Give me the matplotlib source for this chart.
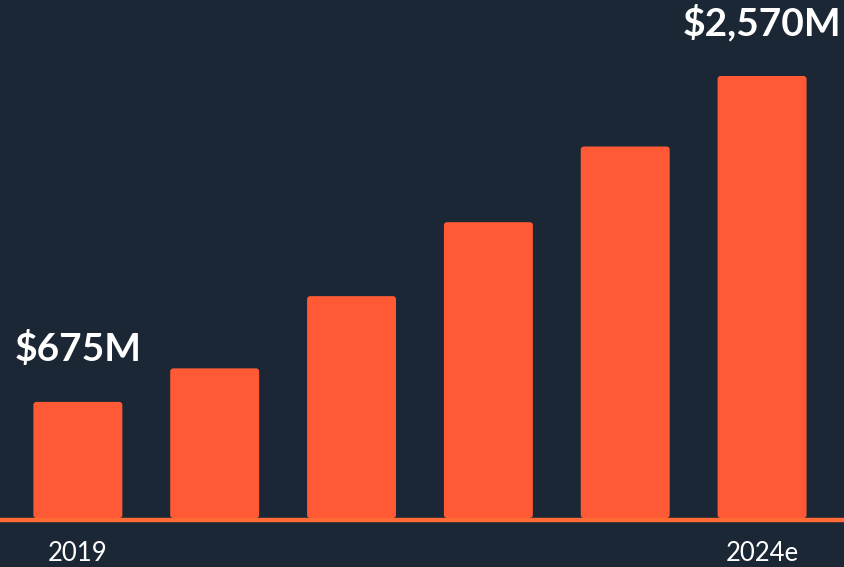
import matplotlib
matplotlib.use("Agg")
import matplotlib.pyplot as plt
from matplotlib.patches import FancyBboxPatch

years = ["2019", "2020", "2021", "2022", "2023", "2024e"]
tick_labels = ["2019", "", "", "", "", "2024e"]
values = [675, 870, 1290, 1720, 2160, 2570]
value_labels = ["$675M", "", "", "", "", "$2,570M"]

BG = "#1b2734"
BAR = "#ff5a35"
LINE = "#ff6a35"

fig = plt.figure(figsize=(8.45, 5.67), dpi=100, facecolor=BG)
ax = fig.add_axes([0, 1 - 518 / 567, 1, 518 / 567])
ax.set_facecolor(BG)

x = list(range(len(years)))
width = 0.65
bars = ax.bar(x, values, width=width, color=BAR)
ax.set_xlim(-0.569, 5.606)
ymax = 2570 * 518 / 442
ax.set_ylim(0, ymax)

# rounded corners
px_x = (5.606 + 0.569) / 845
px_y = ymax / 518
r = 3
for b in bars:
    b.set_visible(False)
    p = FancyBboxPatch((b.get_x(), b.get_y()), b.get_width(), b.get_height(),
                       boxstyle=f"round,pad=0,rounding_size={r * px_x}",
                       mutation_aspect=px_y / px_x,
                       facecolor=BAR, edgecolor="none", zorder=2)
    ax.add_patch(p)

ax.axhline(-2 * px_y, color=LINE, lw=3.2, zorder=3, clip_on=False)

for xi, v, lab in zip(x, values, value_labels):
    if lab:
        ax.annotate(lab, (xi, v), xytext=(0, 25), textcoords="offset points",
                    ha="center", va="bottom", color="white",
                    fontsize=28, fontweight="bold", family="Lato")

ax.set_xticks(x)
ax.set_xticklabels(tick_labels, color="white", fontsize=18.5, family="Lato")
ax.tick_params(axis="x", length=0, pad=16.5)
ax.set_yticks([])
for s in ax.spines.values():
    s.set_visible(False)

fig.savefig("out.png", dpi=100, facecolor=BG)
